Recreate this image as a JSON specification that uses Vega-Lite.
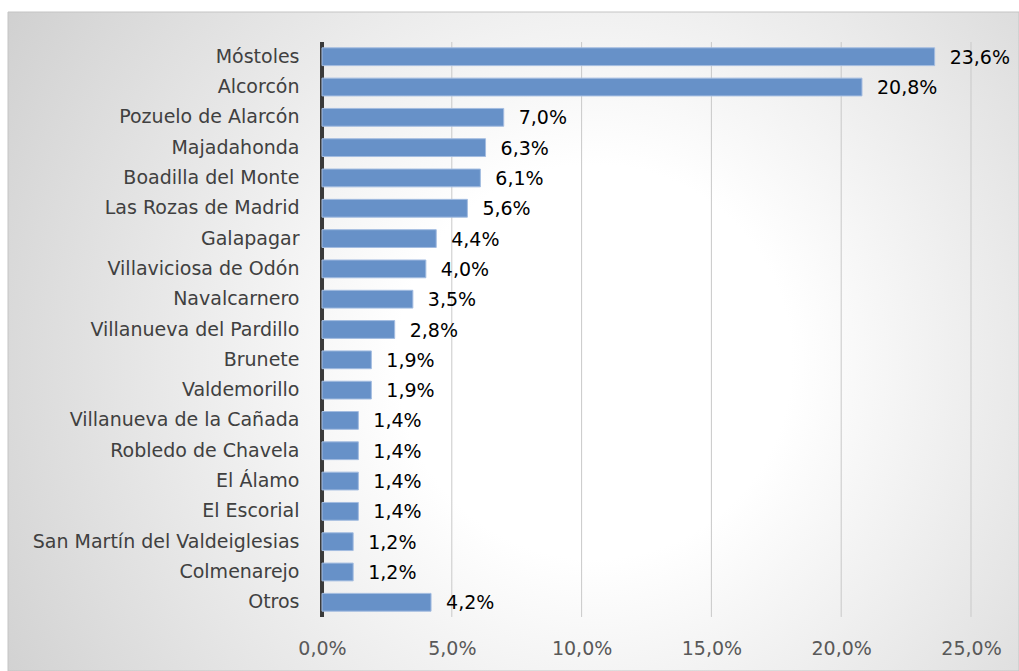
{
  "$schema": "https://vega.github.io/schema/vega-lite/v6.json",
  "width": 1011,
  "height": 659,
  "autosize": {"type": "none"},
  "padding": {"left": 8, "top": 12, "right": 0, "bottom": 0},
  "background": "#ffffff",
  "config": {
    "view": {"stroke": null},
    "font": "DejaVu Sans",
    "locale": {"number": {"decimal": ",", "thousands": ".", "grouping": [3], "currency": ["", " €"], "percent": "%"}}
  },
  "data": {
    "values": [
      {"municipio": "Móstoles", "pct": 0.236},
      {"municipio": "Alcorcón", "pct": 0.208},
      {"municipio": "Pozuelo de Alarcón", "pct": 0.070},
      {"municipio": "Majadahonda", "pct": 0.063},
      {"municipio": "Boadilla del Monte", "pct": 0.061},
      {"municipio": "Las Rozas de Madrid", "pct": 0.056},
      {"municipio": "Galapagar", "pct": 0.044},
      {"municipio": "Villaviciosa de Odón", "pct": 0.040},
      {"municipio": "Navalcarnero", "pct": 0.035},
      {"municipio": "Villanueva del Pardillo", "pct": 0.028},
      {"municipio": "Brunete", "pct": 0.019},
      {"municipio": "Valdemorillo", "pct": 0.019},
      {"municipio": "Villanueva de la Cañada", "pct": 0.014},
      {"municipio": "Robledo de Chavela", "pct": 0.014},
      {"municipio": "El Álamo", "pct": 0.014},
      {"municipio": "El Escorial", "pct": 0.014},
      {"municipio": "San Martín del Valdeiglesias", "pct": 0.012},
      {"municipio": "Colmenarejo", "pct": 0.012},
      {"municipio": "Otros", "pct": 0.042}
    ]
  },
  "layer": [
    {
      "data": {"values": [{"bg": 1}]},
      "mark": {
        "type": "rect",
        "stroke": "#c4c4c4",
        "strokeWidth": 1,
        "fill": {
          "gradient": "radial",
          "x1": 0.58, "y1": 0.52, "r1": 0,
          "x2": 0.58, "y2": 0.52, "r2": 0.78,
          "stops": [
            {"offset": 0, "color": "#ffffff"},
            {"offset": 0.25, "color": "#ffffff"},
            {"offset": 1, "color": "#c6c6c6"}
          ]
        }
      },
      "encoding": {}
    },
    {
      "data": {"values": [{"pct": 0.05}, {"pct": 0.10}, {"pct": 0.15}, {"pct": 0.20}, {"pct": 0.25}]},
      "mark": {"type": "rule", "color": "#c9c9c9", "strokeWidth": 1},
      "encoding": {
        "x": {"field": "pct", "type": "quantitative", "title": null},
        "y": {"datum": "Móstoles", "type": "nominal", "bandPosition": -0.326, "title": null},
        "y2": {"datum": "Otros", "bandPosition": 1.326}
      }
    },
    {
      "data": {"values": [{"pct": 0}]},
      "mark": {"type": "rule", "color": "#3a3a3a", "strokeWidth": 4},
      "encoding": {
        "x": {"field": "pct", "type": "quantitative", "title": null},
        "y": {"datum": "Móstoles", "type": "nominal", "bandPosition": -0.326, "title": null},
        "y2": {"datum": "Otros", "bandPosition": 1.326}
      }
    },
    {
      "mark": {"type": "bar", "fill": "#6791c8", "stroke": "#a3bce0", "strokeWidth": 1},
      "encoding": {
        "y": {
          "field": "municipio",
          "type": "nominal",
          "sort": null,
          "title": null,
          "scale": {
            "type": "band",
            "domain": ["Móstoles", "Alcorcón", "Pozuelo de Alarcón", "Majadahonda", "Boadilla del Monte", "Las Rozas de Madrid", "Galapagar", "Villaviciosa de Odón", "Navalcarnero", "Villanueva del Pardillo", "Brunete", "Valdemorillo", "Villanueva de la Cañada", "Robledo de Chavela", "El Álamo", "El Escorial", "San Martín del Valdeiglesias", "Colmenarejo", "Otros"],
            "range": [30, 605],
            "paddingInner": 0.413, "paddingOuter": 0.192
          },
          "axis": {
            "title": null,
            "orient": "left",
            "offset": -314,
            "zindex": 2,
            "domain": false,
            "ticks": false,
            "grid": false,
            "labelPadding": 23,
            "labelFontSize": 19,
            "labelColor": "#404040",
            "labelLimit": 400
          }
        },
        "x": {
          "field": "pct",
          "type": "quantitative",
          "title": null,
          "scale": {"domain": [-0.12096, 0.26849], "nice": false, "zero": false},
          "axis": {
            "title": null,
            "orient": "bottom",
            "offset": -54,
            "zindex": 2,
            "values": [0, 0.05, 0.10, 0.15, 0.20, 0.25],
            "format": ".1%",
            "domain": false,
            "ticks": false,
            "grid": false,
            "labelPadding": 22,
            "labelFontSize": 19,
            "labelColor": "#595959"
          }
        }
      }
    },
    {
      "mark": {"type": "text", "align": "left", "baseline": "middle", "dx": 15, "dy": 1, "fontSize": 19, "color": "#000000"},
      "encoding": {
        "y": {"field": "municipio", "type": "nominal", "sort": null, "title": null},
        "x": {"field": "pct", "type": "quantitative", "title": null},
        "text": {"field": "pct", "type": "quantitative", "format": ".1%"}
      }
    }
  ]
}
